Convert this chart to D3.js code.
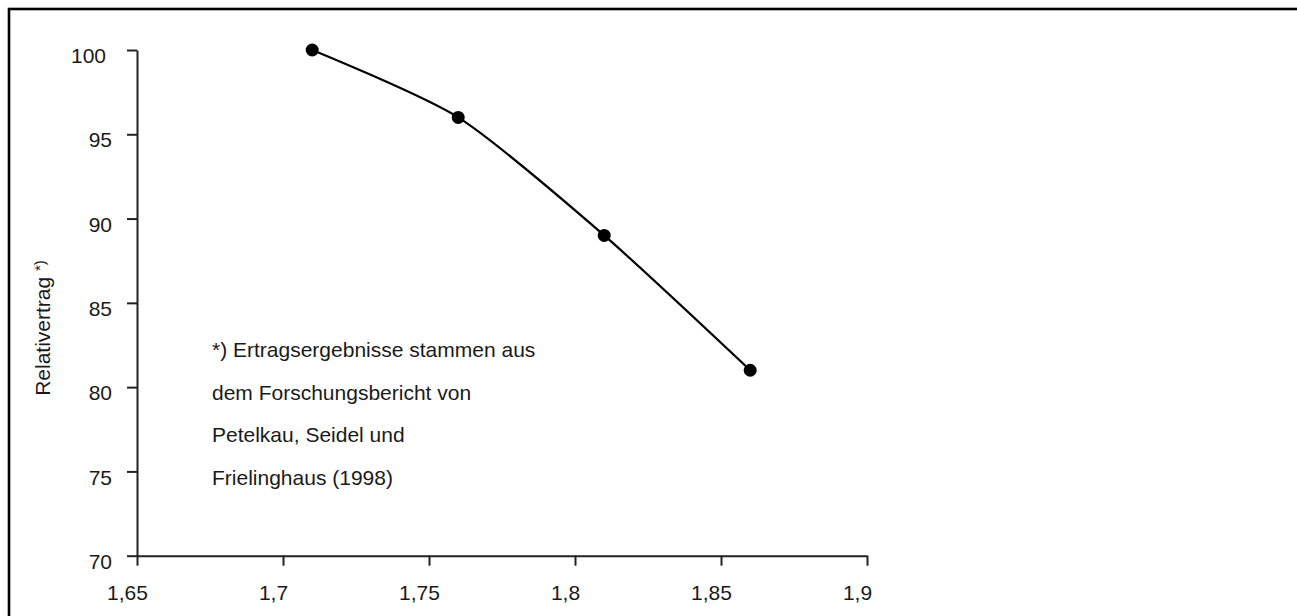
<!DOCTYPE html>
<html>
<head>
<meta charset="utf-8">
<script src="https://cdn.jsdelivr.net/npm/d3@7"></script>
<style>
  html, body { margin: 0; padding: 0; background: #ffffff; }
  svg { display: block; }
  text { font-family: "Liberation Sans", Arial, sans-serif; fill: #1a1a1a; }
</style>
</head>
<body>
<svg id="chart" width="1297" height="616"></svg>
<script>
// ---- data ----
const xValues = [1.71, 1.76, 1.81, 1.86];
const yValues = [100, 96, 89, 81];
const xTicks = [1.65, 1.7, 1.75, 1.8, 1.85, 1.9];
const xTickLabels = ["1,65", "1,7", "1,75", "1,8", "1,85", "1,9"];
const yTicks = [70, 75, 80, 85, 90, 95, 100];
const yTickLabels = ["70", "75", "80", "85", "90", "95", "100"];
const yAxisTitle = "Relativertrag";
const yAxisTitleSup = "*)";
const noteLines = [
  "*) Ertragsergebnisse stammen aus",
  "dem Forschungsbericht von",
  "Petelkau, Seidel und",
  "Frielinghaus (1998)"
];

// ---- layout ----
const svg = d3.select("#chart");
const FS = 21;

// outer frame (extends beyond right and bottom edges)
svg.append("rect")
  .attr("x", 9).attr("y", 9)
  .attr("width", 1400).attr("height", 700)
  .attr("fill", "none").attr("stroke", "#000").attr("stroke-width", 2.6);

const x = d3.scaleLinear().domain([1.65, 1.9]).range([137, 867]);
const y = d3.scaleLinear().domain([70, 100]).range([555.7, 50]);

// y axis
const yAxis = d3.axisLeft(y)
  .tickValues(yTicks)
  .tickFormat((d, i) => yTickLabels[i])
  .tickSize(10).tickSizeOuter(0).tickPadding(15);
const gy = svg.append("g").attr("transform", `translate(${x(1.65)},0)`).call(yAxis);
gy.select(".domain").attr("stroke", "#222").attr("stroke-width", 2);
gy.selectAll(".tick line").attr("stroke", "#222").attr("stroke-width", 2);
gy.selectAll(".tick text").attr("font-size", FS).attr("font-family", "Liberation Sans, Arial, sans-serif")
  .attr("fill", "#1a1a1a").attr("dy", "0.6em")
  .attr("dx", d => d === 100 ? -6 : 0);

// x axis
const xAxis = d3.axisBottom(x)
  .tickValues(xTicks)
  .tickFormat((d, i) => xTickLabels[i])
  .tickSize(10).tickSizeOuter(0).tickPadding(19);
const gx = svg.append("g").attr("transform", `translate(0,${y(70)})`).call(xAxis);
gx.select(".domain").attr("stroke", "#222").attr("stroke-width", 2);
gx.selectAll(".tick line").attr("stroke", "#222").attr("stroke-width", 2);
gx.selectAll(".tick text").attr("font-size", FS).attr("font-family", "Liberation Sans, Arial, sans-serif")
  .attr("fill", "#1a1a1a").attr("dx", -10);

// y axis title
const yt = svg.append("text")
  .attr("transform", "translate(50,328) rotate(-90)")
  .attr("text-anchor", "middle")
  .attr("font-size", FS);
yt.append("tspan").text(yAxisTitle + " ");
yt.append("tspan").attr("font-size", 15).attr("dy", -5).text(yAxisTitleSup);

// curve
const pts = xValues.map((v, i) => [v, yValues[i]]);
const line = d3.line()
  .x(d => x(d[0])).y(d => y(d[1]))
  .curve(d3.curveCardinal.tension(0.3));
svg.append("path").datum(pts)
  .attr("d", line)
  .attr("fill", "none").attr("stroke", "#000").attr("stroke-width", 2.2);

svg.selectAll("circle.pt").data(pts).enter().append("circle")
  .attr("class", "pt")
  .attr("cx", d => x(d[0])).attr("cy", d => y(d[1]))
  .attr("r", 6.5).attr("fill", "#000");

// note
svg.append("g").selectAll("text").data(noteLines).enter().append("text")
  .attr("x", 212).attr("y", (d, i) => 357 + i * 42.5)
  .attr("font-size", FS)
  .text(d => d);
</script>
</body>
</html>
